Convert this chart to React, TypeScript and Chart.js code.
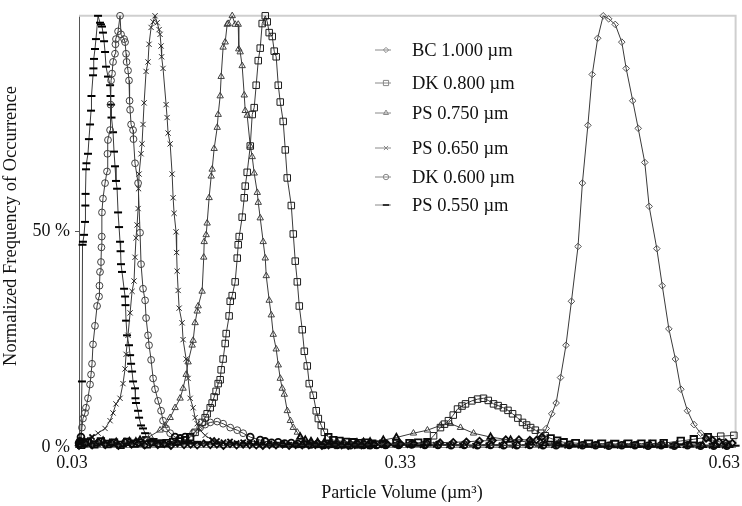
import React, { useEffect, useRef } from 'react';
import { Chart, registerables } from 'chart.js';

Chart.register(...registerables);

// ---------- text ----------
const X_TICKS = [0.03, 0.33, 0.63];
const X_TICK_LABELS = ['0.03', '0.33', '0.63'];
const Y_TICKS = [0, 50];
const Y_TICK_LABELS = ['0 %', '50 %'];
const X_TITLE = 'Particle Volume (µm³)';
const Y_TITLE = 'Normalized Frequency of Occurrence';
const SERIES_NAMES = ['BC 1.000 µm', 'DK 0.800 µm', 'PS 0.750 µm', 'PS 0.650 µm', 'DK 0.600 µm', 'PS 0.550 µm'];

// ---------- data: [particle volume (µm³), normalized frequency (%)] ----------
const BC_1000: [number, number][] = [
  [0.030, 0.3], [0.036, 0.8], [0.042, 0.4], [0.048, 1.1], [0.054, 0.5], [0.060, 0.9], [0.066, 0.3], [0.072, 1.2],
  [0.078, 0.6], [0.084, 0.8], [0.090, 0.4], [0.096, 1.0], [0.102, 0.5], [0.108, 0.7], [0.114, 0.3], [0.120, 0.9],
  [0.126, 0.5], [0.132, 0.6], [0.138, 0.4], [0.144, 0.8], [0.150, 0.5], [0.156, 0.6], [0.162, 0.3], [0.168, 0.7],
  [0.174, 0.4], [0.180, 0.6], [0.186, 0.5], [0.192, 0.4], [0.198, 0.3], [0.204, 0.5], [0.210, 0.4], [0.216, 0.6],
  [0.222, 0.3], [0.228, 0.5], [0.234, 0.4], [0.240, 0.4], [0.246, 0.5], [0.252, 0.3], [0.258, 0.4], [0.264, 0.5],
  [0.270, 0.4], [0.276, 0.3], [0.282, 0.5], [0.288, 0.4], [0.294, 0.5], [0.300, 0.6], [0.312, 0.6], [0.324, 0.7],
  [0.336, 0.8], [0.348, 0.9], [0.360, 1.0], [0.372, 1.1], [0.384, 1.2], [0.396, 1.4], [0.408, 1.5], [0.420, 1.7],
  [0.432, 1.7], [0.442, 1.6], [0.448, 1.6], [0.453, 2.3], [0.457, 4.3], [0.462, 7.7], [0.466, 10.2],
  [0.470, 16.1], [0.475, 23.6], [0.480, 33.8], [0.486, 46.5], [0.490, 61.2], [0.495, 74.6], [0.499, 86.4],
  [0.504, 94.8], [0.509, 100], [0.514, 99.3], [0.520, 98.0], [0.526, 93.9], [0.530, 87.8], [0.536, 80.3],
  [0.541, 73.9], [0.547, 66.0], [0.551, 55.8], [0.558, 46.0], [0.563, 37.4], [0.569, 27.4], [0.575, 20.4],
  [0.580, 13.4], [0.586, 8.4], [0.592, 5.2], [0.598, 3.2], [0.603, 2.0], [0.609, 1.6], [0.615, 1.2], [0.621, 1.0],
  [0.627, 0.9],
];

const DK_0800: [number, number][] = [
  [0.032, 0.5], [0.038, 1.0], [0.044, 0.6], [0.050, 1.3], [0.056, 0.7], [0.062, 1.0], [0.068, 0.5], [0.074, 1.2],
  [0.080, 0.8], [0.086, 1.0], [0.092, 0.6], [0.098, 1.1], [0.104, 0.8], [0.110, 0.9], [0.116, 1.2], [0.122, 1.3],
  [0.1270, 1.6], [0.1316, 2.3], [0.1361, 3.4], [0.1425, 5.7], [0.1453, 6.8], [0.1471, 7.7], [0.1499, 9.1],
  [0.1517, 10.2], [0.1535, 11.6], [0.1553, 12.9], [0.1572, 14.7], [0.1590, 15.6], [0.1599, 17.9], [0.1617, 20.4],
  [0.1636, 24.0], [0.1645, 26.3], [0.1672, 30.4], [0.1682, 33.8], [0.1700, 35.1], [0.1727, 38.3], [0.1746, 43.8],
  [0.1755, 46.9], [0.1764, 48.8], [0.1791, 53.3], [0.1810, 57.8], [0.1819, 60.5], [0.1837, 63.7], [0.1865, 69.8],
  [0.1883, 77.1], [0.1901, 78.7], [0.1919, 83.9], [0.1938, 89.6], [0.1956, 92.5], [0.1974, 98.2], [0.2002, 100],
  [0.2020, 98.6], [0.2038, 96.1], [0.2066, 95.2], [0.2084, 91.8], [0.2102, 90.5], [0.2121, 83.9], [0.2139, 80.0],
  [0.2166, 75.5], [0.2185, 68.9], [0.2203, 62.4], [0.2240, 56.0], [0.2258, 49.4], [0.2276, 43.1], [0.2295, 38.3],
  [0.2313, 32.7], [0.2340, 27.2], [0.2359, 22.2], [0.2386, 18.8], [0.2404, 14.7], [0.2441, 12.0], [0.2468, 8.4],
  [0.2487, 6.6], [0.2514, 5.0], [0.2542, 3.4], [0.2578, 2.3], [0.2624, 1.6], [0.268, 1.4], [0.274, 1.2],
  [0.280, 1.1], [0.286, 0.9], [0.292, 1.0], [0.298, 0.8], [0.308, 0.8], [0.320, 0.9], [0.332, 0.9], [0.340, 1.0],
  [0.3484, 1.1], [0.3540, 2.6], [0.3603, 4.5], [0.3640, 5.3], [0.3676, 6.1], [0.3720, 7.4], [0.3759, 8.8],
  [0.3800, 9.5], [0.3832, 10.0], [0.3890, 10.7], [0.3942, 11.1], [0.3996, 11.3], [0.4040, 10.8], [0.4088, 10.0],
  [0.4130, 9.6], [0.4179, 9.1], [0.4220, 8.5], [0.4262, 7.7], [0.4310, 6.7], [0.4353, 5.7], [0.4390, 5.1],
  [0.4427, 4.5], [0.4470, 3.9], [0.4518, 3.2], [0.4560, 2.6], [0.4610, 2.0], [0.4670, 1.5], [0.4729, 1.1],
  [0.484, 0.9], [0.496, 0.8], [0.508, 0.8], [0.520, 0.7], [0.532, 0.8], [0.544, 0.8], [0.554, 0.8], [0.5643, 0.9],
  [0.5799, 1.4], [0.5918, 1.8], [0.6046, 2.3], [0.6164, 2.5], [0.6284, 2.7],
];

const PS_0750: [number, number][] = [
  [0.034, 0.6], [0.040, 1.2], [0.046, 0.7], [0.052, 1.4], [0.058, 0.8], [0.064, 1.1], [0.070, 0.6], [0.076, 1.3],
  [0.082, 1.2], [0.0858, 1.6], [0.0950, 2.5], [0.1041, 3.9], [0.1087, 5.0], [0.1133, 6.8], [0.1178, 9.1],
  [0.1224, 11.3], [0.1251, 13.6], [0.1279, 16.8], [0.1297, 19.7], [0.1334, 23.6], [0.1343, 24.7], [0.1361, 28.8],
  [0.1380, 31.5], [0.1389, 32.7], [0.1425, 36.1], [0.1440, 44.0], [0.1444, 47.6], [0.1462, 49.2], [0.1471, 51.9],
  [0.1489, 57.8], [0.1508, 62.8], [0.1517, 64.4], [0.1535, 69.2], [0.1563, 74.1], [0.1572, 77.1], [0.1590, 81.4],
  [0.1599, 85.9], [0.1617, 92.7], [0.1636, 93.9], [0.1654, 98.0], [0.1663, 98.2], [0.1700, 100], [0.1727, 98.0],
  [0.1755, 98.0], [0.1760, 92.3], [0.1773, 91.6], [0.1791, 88.4], [0.1810, 81.6], [0.1819, 78.0], [0.1837, 76.9],
  [0.1865, 69.8], [0.1883, 67.3], [0.1901, 63.5], [0.1929, 59.0], [0.1938, 56.7], [0.1956, 53.1], [0.1983, 47.6],
  [0.2002, 43.8], [0.2011, 39.7], [0.2038, 34.0], [0.2057, 30.6], [0.2075, 26.1], [0.2102, 22.7], [0.2121, 19.0],
  [0.2139, 15.9], [0.2157, 13.6], [0.2176, 12.2], [0.2203, 8.4], [0.2231, 6.1], [0.2258, 4.5], [0.2295, 3.4],
  [0.2322, 2.3], [0.2368, 1.6], [0.242, 1.3], [0.248, 1.1], [0.254, 1.0], [0.260, 0.8], [0.266, 1.0],
  [0.272, 0.9], [0.278, 0.8], [0.284, 1.0], [0.290, 1.1], [0.296, 1.2], [0.3081, 1.6], [0.320, 2.2],
  [0.3356, 3.2], [0.3484, 3.9], [0.3603, 5.0], [0.3695, 5.4], [0.3786, 4.5], [0.3905, 3.2], [0.4061, 2.3],
  [0.4244, 1.6], [0.4427, 1.1], [0.456, 0.8], [0.468, 0.7], [0.480, 0.6], [0.492, 0.6], [0.504, 0.5], [0.516, 0.5],
  [0.528, 0.5], [0.540, 0.4], [0.552, 0.5], [0.564, 0.4], [0.576, 0.4], [0.588, 0.5], [0.600, 0.4], [0.612, 0.4],
  [0.624, 0.4],
];

const PS_0650: [number, number][] = [
  [0.0300, 0.6], [0.0320, 0.9], [0.0340, 1.2], [0.0364, 1.6], [0.0419, 2.3], [0.0474, 3.2], [0.0538, 4.3],
  [0.0584, 6.1], [0.0611, 7.9], [0.0638, 10.0], [0.0675, 11.3], [0.0702, 14.7], [0.0721, 18.1], [0.0730, 21.5],
  [0.0748, 25.9], [0.0767, 31.1], [0.0785, 36.1], [0.0803, 38.5], [0.0812, 44.0], [0.0821, 48.5], [0.0831, 51.5],
  [0.0840, 55.3], [0.0844, 59.9], [0.0849, 63.3], [0.0867, 68.0], [0.0876, 70.3], [0.0885, 74.8], [0.0895, 79.8],
  [0.0913, 87.1], [0.0931, 89.3], [0.0940, 93.4], [0.0959, 97.3], [0.0977, 98.6], [0.0995, 100], [0.1014, 98.4],
  [0.1032, 96.8], [0.1041, 95.7], [0.1050, 93.0], [0.1055, 90.5], [0.1068, 87.8], [0.1096, 79.4], [0.1105, 76.4],
  [0.1114, 72.8], [0.1133, 70.3], [0.1151, 63.3], [0.1160, 57.8], [0.1169, 54.2], [0.1187, 49.9], [0.1192, 45.1],
  [0.1197, 40.8], [0.1206, 36.3], [0.1215, 32.2], [0.1242, 28.8], [0.1251, 24.9], [0.1279, 20.4], [0.1297, 15.9],
  [0.1316, 11.3], [0.1343, 9.1], [0.1361, 6.8], [0.1380, 5.4], [0.1407, 3.9], [0.1453, 2.7], [0.1517, 1.6],
  [0.156, 1.4], [0.162, 1.1], [0.168, 1.3], [0.174, 0.9], [0.180, 1.1], [0.186, 0.8], [0.192, 0.9], [0.198, 0.6],
  [0.204, 0.8], [0.210, 0.5], [0.216, 0.7], [0.222, 0.5], [0.228, 0.6], [0.234, 0.4], [0.240, 0.6], [0.246, 0.5],
  [0.252, 0.4], [0.258, 0.6], [0.264, 0.4], [0.270, 0.5], [0.276, 0.4], [0.282, 0.5], [0.288, 0.3], [0.294, 0.5],
  [0.300, 0.4], [0.308, 0.4], [0.320, 0.5], [0.332, 0.4], [0.344, 0.4], [0.356, 0.5], [0.368, 0.4], [0.380, 0.4],
  [0.392, 0.3], [0.404, 0.4], [0.416, 0.4], [0.428, 0.3], [0.440, 0.4], [0.452, 0.3], [0.464, 0.4], [0.476, 0.3],
  [0.488, 0.3], [0.500, 0.4], [0.512, 0.3], [0.524, 0.3], [0.536, 0.4], [0.548, 0.3], [0.560, 0.3], [0.572, 0.3],
  [0.584, 0.4], [0.596, 0.3], [0.608, 0.3], [0.620, 0.3],
];

const DK_0600: [number, number][] = [
  [0.0300, 0.9], [0.0309, 1.3], [0.0318, 2.3], [0.0327, 4.5], [0.0336, 6.6], [0.0355, 7.9], [0.0364, 9.1],
  [0.0382, 11.3], [0.0401, 14.5], [0.0410, 16.8], [0.0419, 19.3], [0.0428, 23.8], [0.0446, 28.1], [0.0465, 32.7],
  [0.0483, 34.9], [0.0487, 37.4], [0.0492, 40.6], [0.0501, 42.9], [0.0505, 46.3], [0.0508, 48.8], [0.0510, 54.4],
  [0.0519, 57.6], [0.0538, 61.2], [0.0556, 63.9], [0.0560, 68.0], [0.0565, 71.2], [0.0584, 73.5], [0.0588, 79.4],
  [0.0593, 85.0], [0.0602, 86.6], [0.0611, 89.3], [0.0629, 91.2], [0.0633, 93.4], [0.0638, 94.6], [0.0657, 96.4],
  [0.0675, 100], [0.0684, 95.7], [0.0712, 94.6], [0.0721, 93.9], [0.0730, 91.2], [0.0735, 89.3], [0.0748, 87.3],
  [0.0757, 85.0], [0.0762, 80.3], [0.0767, 78.2], [0.0776, 74.8], [0.0794, 73.5], [0.0798, 71.4], [0.0812, 65.8],
  [0.0840, 61.2], [0.0858, 49.7], [0.0867, 42.4], [0.0885, 36.7], [0.0904, 34.0], [0.0913, 29.9], [0.0931, 25.9],
  [0.0940, 23.6], [0.0959, 20.2], [0.0977, 15.9], [0.0995, 13.4], [0.1023, 10.7], [0.1050, 8.4], [0.1068, 6.1],
  [0.1096, 4.3], [0.1133, 3.2], [0.1178, 2.3], [0.1224, 2.0], [0.1270, 2.3], [0.1343, 3.2], [0.1407, 4.5],
  [0.1453, 5.2], [0.1499, 5.7], [0.1563, 5.9], [0.1617, 5.4], [0.1682, 4.5], [0.1746, 3.9], [0.1800, 3.2],
  [0.1865, 2.3], [0.1956, 1.6], [0.200, 1.3], [0.206, 1.0], [0.212, 1.1], [0.218, 0.8], [0.224, 0.9], [0.230, 0.7],
  [0.236, 0.8], [0.242, 0.6], [0.248, 0.7], [0.254, 0.5], [0.260, 0.7], [0.266, 0.5], [0.272, 0.6], [0.278, 0.4],
  [0.284, 0.6], [0.290, 0.5], [0.296, 0.4], [0.302, 0.5], [0.310, 0.5], [0.322, 0.5], [0.334, 0.6], [0.346, 0.5],
  [0.358, 0.5], [0.370, 0.4], [0.382, 0.5], [0.394, 0.4], [0.406, 0.5], [0.418, 0.4], [0.430, 0.4], [0.442, 0.5],
  [0.454, 0.4], [0.466, 0.4], [0.478, 0.5], [0.490, 0.4], [0.502, 0.4], [0.514, 0.3], [0.526, 0.4], [0.538, 0.4],
  [0.550, 0.3], [0.562, 0.4], [0.574, 0.3], [0.586, 0.4], [0.598, 0.3], [0.610, 0.3], [0.622, 0.3],
];

const PS_0550: [number, number][] = [
  [0.0300, 0.7], [0.0309, 0.9], [0.0318, 1.6], [0.0327, 15.2], [0.0332, 46.9], [0.0336, 47.6], [0.0346, 49.2],
  [0.0355, 52.2], [0.0358, 56.0], [0.0360, 58.7], [0.0364, 64.4], [0.0368, 65.8], [0.0382, 68.0], [0.0391, 71.4],
  [0.0401, 74.8], [0.0410, 78.0], [0.0414, 81.4], [0.0428, 86.2], [0.0432, 87.8], [0.0437, 90.0], [0.0446, 92.3],
  [0.0455, 94.6], [0.0474, 100], [0.0492, 98.4], [0.0501, 98.0], [0.0510, 97.5], [0.0519, 96.1], [0.0529, 94.1],
  [0.0538, 91.6], [0.0547, 88.2], [0.0565, 85.9], [0.0584, 83.9], [0.0588, 81.4], [0.0593, 79.4], [0.0597, 76.4],
  [0.0611, 73.0], [0.0620, 68.5], [0.0629, 65.1], [0.0638, 61.7], [0.0648, 59.9], [0.0657, 54.4], [0.0666, 51.0],
  [0.0675, 47.6], [0.0680, 45.4], [0.0684, 42.4], [0.0693, 40.6], [0.0712, 36.7], [0.0721, 34.9], [0.0725, 32.9],
  [0.0730, 29.3], [0.0739, 25.9], [0.0757, 23.6], [0.0767, 21.3], [0.0776, 19.3], [0.0785, 17.5], [0.0794, 15.2],
  [0.0812, 13.6], [0.0816, 11.3], [0.0821, 10.2], [0.0840, 8.4], [0.0849, 6.8], [0.0867, 5.0], [0.0885, 4.3],
  [0.0904, 3.2], [0.0913, 2.3], [0.0950, 1.6], [0.098, 1.4], [0.102, 1.1], [0.106, 1.5], [0.110, 0.9],
  [0.114, 1.2], [0.118, 0.8], [0.122, 1.3], [0.126, 1.0], [0.130, 1.4], [0.134, 0.9], [0.138, 1.2], [0.142, 0.8],
  [0.148, 1.1], [0.154, 0.7], [0.160, 1.0], [0.166, 0.6], [0.172, 0.9], [0.178, 0.5], [0.184, 0.8], [0.190, 0.5],
  [0.196, 0.7], [0.202, 0.4], [0.208, 0.6], [0.214, 0.4], [0.220, 0.6], [0.226, 0.4], [0.232, 0.5], [0.238, 0.4],
  [0.244, 0.5], [0.250, 0.3], [0.256, 0.5], [0.262, 0.4], [0.268, 0.4], [0.274, 0.3], [0.280, 0.5], [0.286, 0.4],
  [0.292, 0.4], [0.298, 0.3], [0.306, 0.5], [0.318, 0.4], [0.330, 0.5], [0.342, 0.4], [0.354, 0.4], [0.366, 0.5],
  [0.378, 0.4], [0.390, 0.3], [0.402, 0.4], [0.414, 0.4], [0.426, 0.3], [0.438, 0.4], [0.450, 0.3], [0.462, 0.4],
  [0.474, 0.3], [0.486, 0.3], [0.498, 0.4], [0.510, 0.3], [0.522, 0.3], [0.534, 0.4], [0.546, 0.3], [0.558, 0.3],
  [0.570, 0.3], [0.582, 0.4], [0.594, 0.3], [0.606, 0.3], [0.618, 0.3], [0.630, 0.3],
];

const SERIES_DATA = [BC_1000, DK_0800, PS_0750, PS_0650, DK_0600, PS_0550];

// ---------- styles ----------
const SERIES_STYLE = [
  { pointStyle: 'rectRot', radius: 3.3, color: '#505050', width: 1 },
  { pointStyle: 'rect', radius: 4.6, color: '#1e1e1e', width: 1 },
  { pointStyle: 'triangle', radius: 3.7, color: '#404040', width: 1 },
  { pointStyle: 'crossRot', radius: 3.7, color: '#2a2a2a', width: 1 },
  { pointStyle: 'circle', radius: 3.4, color: '#404040', width: 1 },
  { pointStyle: 'line', radius: 4, color: '#000000', width: 2 },
];
const BASE_LEVEL = 2.5; // below this the overlapping markers form the dark band along the axis
const FONT = '"Liberation Serif", "Times New Roman", serif';
const LEGEND_ROWS = [50, 83, 113, 148, 177, 205];

function drawMarker(ctx: CanvasRenderingContext2D, style: string, x: number, y: number, r: number) {
  ctx.beginPath();
  if (style === 'rectRot') {
    ctx.moveTo(x, y - r); ctx.lineTo(x + r, y); ctx.lineTo(x, y + r); ctx.lineTo(x - r, y); ctx.closePath();
  } else if (style === 'rect') {
    const s = r * Math.SQRT1_2;
    ctx.rect(x - s, y - s, 2 * s, 2 * s);
  } else if (style === 'triangle') {
    ctx.moveTo(x, y - r); ctx.lineTo(x + r * 0.866, y + r * 0.5); ctx.lineTo(x - r * 0.866, y + r * 0.5); ctx.closePath();
  } else if (style === 'crossRot') {
    const s = r * Math.SQRT1_2;
    ctx.moveTo(x - s, y - s); ctx.lineTo(x + s, y + s); ctx.moveTo(x + s, y - s); ctx.lineTo(x - s, y + s);
  } else if (style === 'circle') {
    ctx.arc(x, y, r, 0, Math.PI * 2);
  } else {
    ctx.moveTo(x - r, y); ctx.lineTo(x + r, y);
  }
  ctx.stroke();
}

const decor = {
  id: 'decor',
  beforeDatasetsDraw(chart: any) {
    const { ctx, chartArea: a } = chart;
    ctx.save();
    ctx.strokeStyle = '#cfcfcf';
    ctx.lineWidth = 2;
    ctx.beginPath();
    ctx.moveTo(a.left, a.top);
    ctx.lineTo(a.right, a.top);
    ctx.lineTo(a.right, a.bottom);
    ctx.stroke();
    ctx.restore();
  },
  afterDraw(chart: any) {
    const { ctx } = chart;
    const xs = chart.scales.x;
    ctx.save();
    ctx.fillStyle = '#111';
    ctx.font = `18px ${FONT}`;
    ctx.textBaseline = 'middle';
    ctx.textAlign = 'center';
    X_TICKS.forEach((v, i) => {
      const label = X_TICK_LABELS[i];
      const w = ctx.measureText(label).width;
      let px = xs.getPixelForValue(v) - 7;
      px = Math.min(px, chart.width - 2 - w / 2);
      ctx.fillText(label, px, 463);
    });
    ctx.fillText(X_TITLE, 402, 493);
    ctx.save();
    ctx.translate(11, 226);
    ctx.rotate(-Math.PI / 2);
    ctx.font = `18.5px ${FONT}`;
    ctx.fillText(Y_TITLE, 0, 0);
    ctx.restore();

    // legend
    ctx.textAlign = 'left';
    ctx.font = `18.5px ${FONT}`;
    SERIES_NAMES.forEach((name, i) => {
      const y = LEGEND_ROWS[i];
      const st = SERIES_STYLE[i];
      ctx.strokeStyle = '#8a8a8a';
      ctx.lineWidth = 1;
      ctx.beginPath();
      ctx.moveTo(375, y);
      ctx.lineTo(391, y);
      ctx.stroke();
      ctx.strokeStyle = i === 5 ? '#333' : '#888';
      ctx.lineWidth = st.width;
      drawMarker(ctx, st.pointStyle, 386, y, st.radius * 0.8);
      ctx.fillStyle = '#111';
      ctx.fillText(name, 412, y + 1);
    });
    ctx.restore();
  },
};

export default function App() {
  const ref = useRef<HTMLCanvasElement>(null);

  useEffect(() => {
    if (!ref.current) return;
    const datasets = SERIES_DATA.map((d, i) => {
      const st = SERIES_STYLE[i];
      const low = (c: any) => c && c.raw && c.raw.y < BASE_LEVEL;
      return {
        label: SERIES_NAMES[i],
        data: d.map(([x, y]) => ({ x, y })),
        showLine: true,
        borderColor: '#3a3a3a',
        borderWidth: 1,
        pointStyle: st.pointStyle,
        pointRadius: st.radius,
        pointBorderColor: (c: any) => (low(c) ? '#0a0a0a' : st.color),
        pointBorderWidth: (c: any) => (low(c) ? Math.max(st.width, 1.8) : st.width),
        pointBackgroundColor: 'rgba(255,255,255,0)',
        tension: 0,
        clip: false,
      };
    });
    const chart = new Chart(ref.current, {
      type: 'scatter',
      data: { datasets: datasets as any },
      plugins: [decor],
      options: {
        responsive: false,
        animation: false,
        events: [],
        layout: { padding: { top: 6, right: 5, left: 0, bottom: 0 } },
        plugins: { legend: { display: false }, tooltip: { enabled: false } },
        scales: {
          x: {
            type: 'linear',
            min: 0.03,
            max: 0.63,
            afterBuildTicks: (s: any) => { s.ticks = X_TICKS.map((v) => ({ value: v })); },
            afterFit: (s: any) => { s.height = 59; },
            ticks: { display: false },
            grid: { display: false },
            border: { display: true, color: '#8a8a8a', width: 1 },
          },
          y: {
            type: 'linear',
            min: 0,
            max: 100,
            afterBuildTicks: (s: any) => { s.ticks = Y_TICKS.map((v) => ({ value: v })); },
            afterFit: (s: any) => { s.width = 79; },
            ticks: {
              callback: (v: any) => Y_TICK_LABELS[Y_TICKS.indexOf(Number(v))] ?? '',
              color: '#111',
              padding: 5,
              font: { family: FONT, size: 18 },
            },
            grid: { drawOnChartArea: false, drawTicks: true, tickLength: 4, color: '#555' },
            border: { display: true, color: '#555', width: 1 },
          },
        },
      },
    });
    return () => chart.destroy();
  }, []);

  return (
    <div style={{ position: 'fixed', left: 0, top: 0, width: 742, height: 506, background: '#fff' }}>
      <canvas ref={ref} width={742} height={506} style={{ width: 742, height: 506, display: 'block' }} />
    </div>
  );
}
